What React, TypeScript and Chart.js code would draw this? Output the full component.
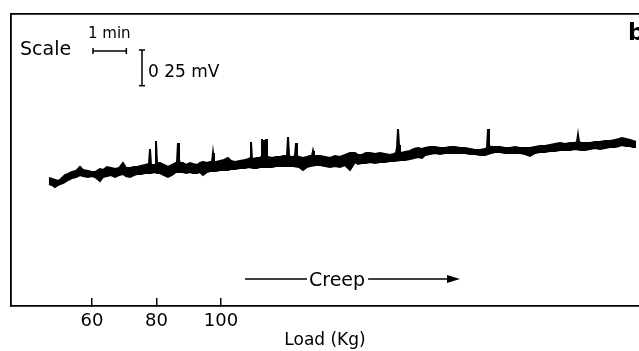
import React, { useEffect, useRef } from 'react';
import { Chart, registerables } from 'chart.js';

Chart.register(...registerables);

// Load axis tick labels (Kg)
const loadTicks = [60, 80, 100];
const loadRange = [34.88, 229.6];

// Time axis (s) and signal (mV) ranges
const timeRange = [-68.4, 1062];
const mvRange = [-0.875, 1.169];

// Scale bar values
const scaleBarSeconds = 60;
const scaleBarMv = 0.25;

// Upper edge of the recorded trace (time in s, signal in mV)
const upperTime = [
  0, 5.4, 10.8, 16.2, 19.8, 25.2, 28.8, 34.2, 41.4, 48.6, 55.8, 61.2, 70.2, 77.4, 82.8, 91.8, 97.2, 104.4,
  111.6, 118.8, 126, 133.2, 138.6, 145.8, 153, 158.4, 165.6, 172.8, 180, 181.8, 183.6, 190.8, 192.6, 194.4,
  199.8, 207, 214.2, 221.4, 228.6, 230.4, 232.2, 234, 235.8, 241.2, 246.6, 253.8, 259.2, 266.4, 271.8, 277.2,
  284.4, 289.8, 293.4, 295.2, 297, 300.6, 307.8, 315, 322.2, 327.6, 334.8, 343.8, 352.8, 360, 361.8, 363.6,
  365.4, 367.2, 374.4, 379.8, 381.6, 383.4, 385.2, 387, 388.8, 390.6, 392.4, 394.2, 401.4, 408.6, 415.8, 423,
  428.4, 430.2, 432, 433.8, 439.2, 442.8, 444.6, 446.4, 450, 457.2, 464.4, 469.8, 473.4, 475.2, 477, 480.6,
  487.8, 496.8, 505.8, 514.8, 523.8, 532.8, 541.8, 550.8, 556.2, 563.4, 570.6, 577.8, 586.8, 595.8, 604.8,
  613.8, 621, 624.6, 626.4, 628.2, 630, 631.8, 633.6, 640.8, 649.8, 657, 664.2, 671.4, 676.8, 685.8, 694.8,
  703.8, 712.8, 721.8, 730.8, 739.8, 748.8, 757.8, 766.8, 775.8, 784.8, 788.4, 790.2, 792, 795.6, 802.8,
  811.8, 820.8, 829.8, 838.8, 847.8, 856.8, 865.8, 874.8, 883.8, 892.8, 901.8, 910.8, 919.8, 928.8, 937.8,
  946.8, 950.4, 952.2, 954, 957.6, 964.8, 973.8, 982.8, 991.8, 1000.8, 1009.8, 1018.8, 1026, 1031.4, 1038.6,
  1045.8, 1051.2, 1056.6,
];
const upperMv = [
  0.021, 0.014, 0.007, 0, 0.007, 0.028, 0.042, 0.049, 0.063, 0.07, 0.098, 0.077, 0.07, 0.063, 0.063, 0.084, 0.077, 0.098,
  0.091, 0.084, 0.091, 0.126, 0.091, 0.091, 0.098, 0.098, 0.105, 0.112, 0.119, 0.224, 0.112, 0.112, 0.28, 0.126,
  0.126, 0.112, 0.098, 0.112, 0.126, 0.133, 0.266, 0.147, 0.126, 0.126, 0.112, 0.126, 0.119, 0.112, 0.126, 0.133,
  0.126, 0.133, 0.133, 0.196, 0.133, 0.133, 0.14, 0.147, 0.161, 0.14, 0.133, 0.14, 0.147, 0.154, 0.161, 0.273,
  0.154, 0.154, 0.161, 0.161, 0.168, 0.294, 0.217, 0.287, 0.217, 0.294, 0.168, 0.168, 0.161, 0.168, 0.168, 0.175,
  0.175, 0.308, 0.182, 0.168, 0.168, 0.175, 0.266, 0.175, 0.168, 0.161, 0.168, 0.175, 0.175, 0.21, 0.175, 0.175,
  0.175, 0.168, 0.161, 0.175, 0.168, 0.182, 0.196, 0.196, 0.182, 0.182, 0.196, 0.196, 0.189, 0.196, 0.189,
  0.182, 0.189, 0.196, 0.231, 0.364, 0.252, 0.203, 0.196, 0.203, 0.21, 0.224, 0.231, 0.224, 0.231, 0.238, 0.238,
  0.231, 0.231, 0.238, 0.238, 0.231, 0.231, 0.224, 0.217, 0.217, 0.224, 0.231, 0.364, 0.245, 0.238, 0.238,
  0.238, 0.231, 0.231, 0.238, 0.231, 0.231, 0.231, 0.238, 0.245, 0.245, 0.252, 0.259, 0.266, 0.259, 0.266,
  0.266, 0.273, 0.322, 0.273, 0.266, 0.266, 0.266, 0.273, 0.273, 0.28, 0.28, 0.287, 0.294, 0.301, 0.294,
  0.287, 0.28, 0.273,
];

// Lower edge of the recorded trace (time in s, signal in mV)
const lowerTime = [
  0, 5.4, 10.8, 16.2, 19.8, 25.2, 28.8, 34.2, 41.4, 48.6, 55.8, 61.2, 70.2, 77.4, 82.8, 91.8, 97.2, 104.4,
  111.6, 118.8, 126, 133.2, 138.6, 145.8, 153, 158.4, 165.6, 172.8, 183.6, 190.8, 194.4, 199.8, 207, 214.2,
  221.4, 228.6, 235.8, 241.2, 246.6, 253.8, 259.2, 266.4, 271.8, 277.2, 284.4, 289.8, 300.6, 307.8, 315, 322.2,
  327.6, 334.8, 343.8, 352.8, 360, 367.2, 374.4, 379.8, 394.2, 401.4, 408.6, 415.8, 423, 433.8, 439.2, 450,
  457.2, 464.4, 469.8, 480.6, 487.8, 496.8, 505.8, 514.8, 523.8, 532.8, 541.8, 550.8, 556.2, 563.4, 570.6,
  577.8, 586.8, 595.8, 604.8, 613.8, 621, 633.6, 640.8, 649.8, 657, 664.2, 671.4, 676.8, 685.8, 694.8, 703.8,
  712.8, 721.8, 730.8, 739.8, 748.8, 757.8, 766.8, 775.8, 784.8, 795.6, 802.8, 811.8, 820.8, 829.8, 838.8,
  847.8, 856.8, 865.8, 874.8, 883.8, 892.8, 901.8, 910.8, 919.8, 928.8, 937.8, 946.8, 957.6, 964.8, 973.8,
  982.8, 991.8, 1000.8, 1009.8, 1018.8, 1026, 1031.4, 1038.6, 1045.8, 1051.2, 1056.6,
];
const lowerMv = [
  -0.021, -0.028, -0.042, -0.028, -0.021, -0.014, -0.007, 0.007, 0.021, 0.028, 0.042, 0.035, 0.028, 0.035, 0.028, 0, 0.028, 0.035,
  0.042, 0.028, 0.042, 0.049, 0.035, 0.028, 0.042, 0.049, 0.049, 0.056, 0.056, 0.063, 0.056, 0.056, 0.042, 0.028,
  0.042, 0.063, 0.063, 0.063, 0.056, 0.063, 0.056, 0.056, 0.063, 0.042, 0.063, 0.07, 0.07, 0.077, 0.077, 0.077,
  0.084, 0.084, 0.091, 0.091, 0.098, 0.091, 0.091, 0.098, 0.098, 0.098, 0.105, 0.105, 0.105, 0.105, 0.105, 0.098,
  0.077, 0.098, 0.105, 0.112, 0.112, 0.105, 0.098, 0.105, 0.098, 0.112, 0.077, 0.133, 0.119, 0.126, 0.126,
  0.133, 0.126, 0.133, 0.133, 0.14, 0.14, 0.147, 0.147, 0.154, 0.161, 0.168, 0.161, 0.182, 0.189, 0.196, 0.189,
  0.196, 0.196, 0.196, 0.196, 0.196, 0.189, 0.189, 0.182, 0.182, 0.196, 0.203, 0.203, 0.196, 0.196, 0.196,
  0.196, 0.189, 0.175, 0.196, 0.203, 0.203, 0.21, 0.21, 0.217, 0.217, 0.217, 0.224, 0.217, 0.217, 0.224,
  0.231, 0.224, 0.231, 0.238, 0.238, 0.245, 0.252, 0.245, 0.245, 0.238, 0.238,
];

const FONT = '"DejaVu Sans", "Liberation Sans", sans-serif';
const INK = '#000000';

export default function App() {
  const canvasRef = useRef<HTMLCanvasElement | null>(null);

  useEffect(() => {
    const canvas = canvasRef.current;
    if (!canvas) return;

    const upper = upperTime.map((t, i) => ({ x: t, y: upperMv[i] }));
    const lower = lowerTime.map((t, i) => ({ x: t, y: lowerMv[i] }));

    const annotations = {
      id: 'annotations',
      afterDraw(chart: any) {
        const ctx = chart.ctx as CanvasRenderingContext2D;
        const ts = chart.scales.time;
        const ys = chart.scales.y;
        ctx.save();
        ctx.fillStyle = INK;
        ctx.strokeStyle = INK;
        ctx.lineWidth = 1.5;
        ctx.textBaseline = 'alphabetic';
        ctx.textAlign = 'left';

        const seg = (x1: number, y1: number, x2: number, y2: number) => {
          ctx.beginPath();
          ctx.moveTo(x1, y1);
          ctx.lineTo(x2, y2);
          ctx.stroke();
        };

        // "Scale" label
        ctx.font = `19px ${FONT}`;
        ctx.fillText('Scale', 20, 55);

        // 1 min bar
        ctx.font = `15px ${FONT}`;
        ctx.fillText('1 min', 88, 38);
        const barW = ts.getPixelForValue(scaleBarSeconds) - ts.getPixelForValue(0);
        const bx = 93;
        const by = 51;
        seg(bx, by, bx + barW, by);
        seg(bx, by - 3, bx, by + 3);
        seg(bx + barW, by - 3, bx + barW, by + 3);

        // 0.25 mV bar
        const barH = ys.getPixelForValue(0) - ys.getPixelForValue(scaleBarMv);
        const vx = 142;
        const vy = 50;
        seg(vx, vy, vx, vy + barH);
        seg(vx - 3, vy, vx + 3, vy);
        seg(vx - 3, vy + barH, vx + 3, vy + barH);
        ctx.font = `17px ${FONT}`;
        ctx.fillText('0 25 mV', 148, 77);

        // panel letter
        ctx.font = `bold 23px ${FONT}`;
        ctx.fillText('b', 628, 40);

        // Creep arrow
        ctx.font = `19px ${FONT}`;
        const cy = 279;
        const tx = 309;
        const tw = ctx.measureText('Creep').width;
        seg(245, cy, tx - 2, cy);
        ctx.fillText('Creep', tx, 286);
        const ax = 460;
        seg(tx + tw + 3, cy, ax - 8, cy);
        ctx.beginPath();
        ctx.moveTo(ax, cy);
        ctx.lineTo(ax - 13, cy - 4);
        ctx.lineTo(ax - 13, cy + 4);
        ctx.closePath();
        ctx.fill();

        ctx.restore();
      },
    };

    const chart = new Chart(canvas, {
      type: 'line',
      data: {
        datasets: [
          {
            label: 'upper',
            data: upper,
            xAxisID: 'time',
            yAxisID: 'y',
            borderColor: INK,
            backgroundColor: INK,
            borderWidth: 2,
            borderJoinStyle: 'miter',
            pointRadius: 0,
            tension: 0,
            fill: '+1',
          },
          {
            label: 'lower',
            data: lower,
            xAxisID: 'time',
            yAxisID: 'y',
            borderColor: INK,
            backgroundColor: INK,
            borderWidth: 2,
            borderJoinStyle: 'miter',
            pointRadius: 0,
            tension: 0,
            fill: false,
          },
        ],
      },
      options: {
        animation: false,
        responsive: false,
        devicePixelRatio: 1,
        layout: { padding: { left: 11, top: 14, right: 0, bottom: 0 } },
        plugins: {
          legend: { display: false },
          tooltip: { enabled: false },
        },
        scales: {
          time: {
            type: 'linear',
            position: 'bottom',
            display: false,
            min: timeRange[0],
            max: timeRange[1],
          },
          load: {
            type: 'linear',
            position: 'bottom',
            min: loadRange[0],
            max: loadRange[1],
            afterBuildTicks: (s: any) => {
              s.ticks = loadTicks.map((v) => ({ value: v }));
            },
            afterFit: (s: any) => {
              s.height = 45;
            },
            ticks: {
              color: INK,
              font: { family: FONT, size: 18 },
              padding: 13,
              maxRotation: 0,
              autoSkip: false,
            },
            grid: {
              drawOnChartArea: false,
              drawTicks: true,
              tickLength: -8,
              color: INK,
              lineWidth: 1.5,
            },
            border: { display: true, color: INK, width: 1.8 },
            title: {
              display: true,
              text: 'Load (Kg)',
              color: INK,
              font: { family: FONT, size: 17 },
              padding: { top: 0, bottom: 0 },
            },
          },
          top: {
            type: 'linear',
            position: 'top',
            display: true,
            ticks: { display: false },
            grid: { drawOnChartArea: false, drawTicks: false, color: INK, lineWidth: 1.5 },
            border: { display: true, color: INK, width: 1.8 },
            afterFit: (s: any) => {
              s.height = 0;
            },
          },
          y: {
            type: 'linear',
            position: 'left',
            min: mvRange[0],
            max: mvRange[1],
            ticks: { display: false },
            grid: { drawOnChartArea: false, drawTicks: false, color: INK, lineWidth: 1.5 },
            border: { display: true, color: INK, width: 1.8 },
            afterFit: (s: any) => {
              s.width = 0;
            },
          },
        },
      },
      plugins: [annotations],
    } as any);

    return () => {
      chart.destroy();
    };
  }, []);

  return (
    <div style={{ position: 'fixed', left: 0, top: 0, width: 639, height: 351, background: '#fff' }}>
      <canvas ref={canvasRef} width={639} height={351} style={{ display: 'block', width: 639, height: 351 }} />
    </div>
  );
}
